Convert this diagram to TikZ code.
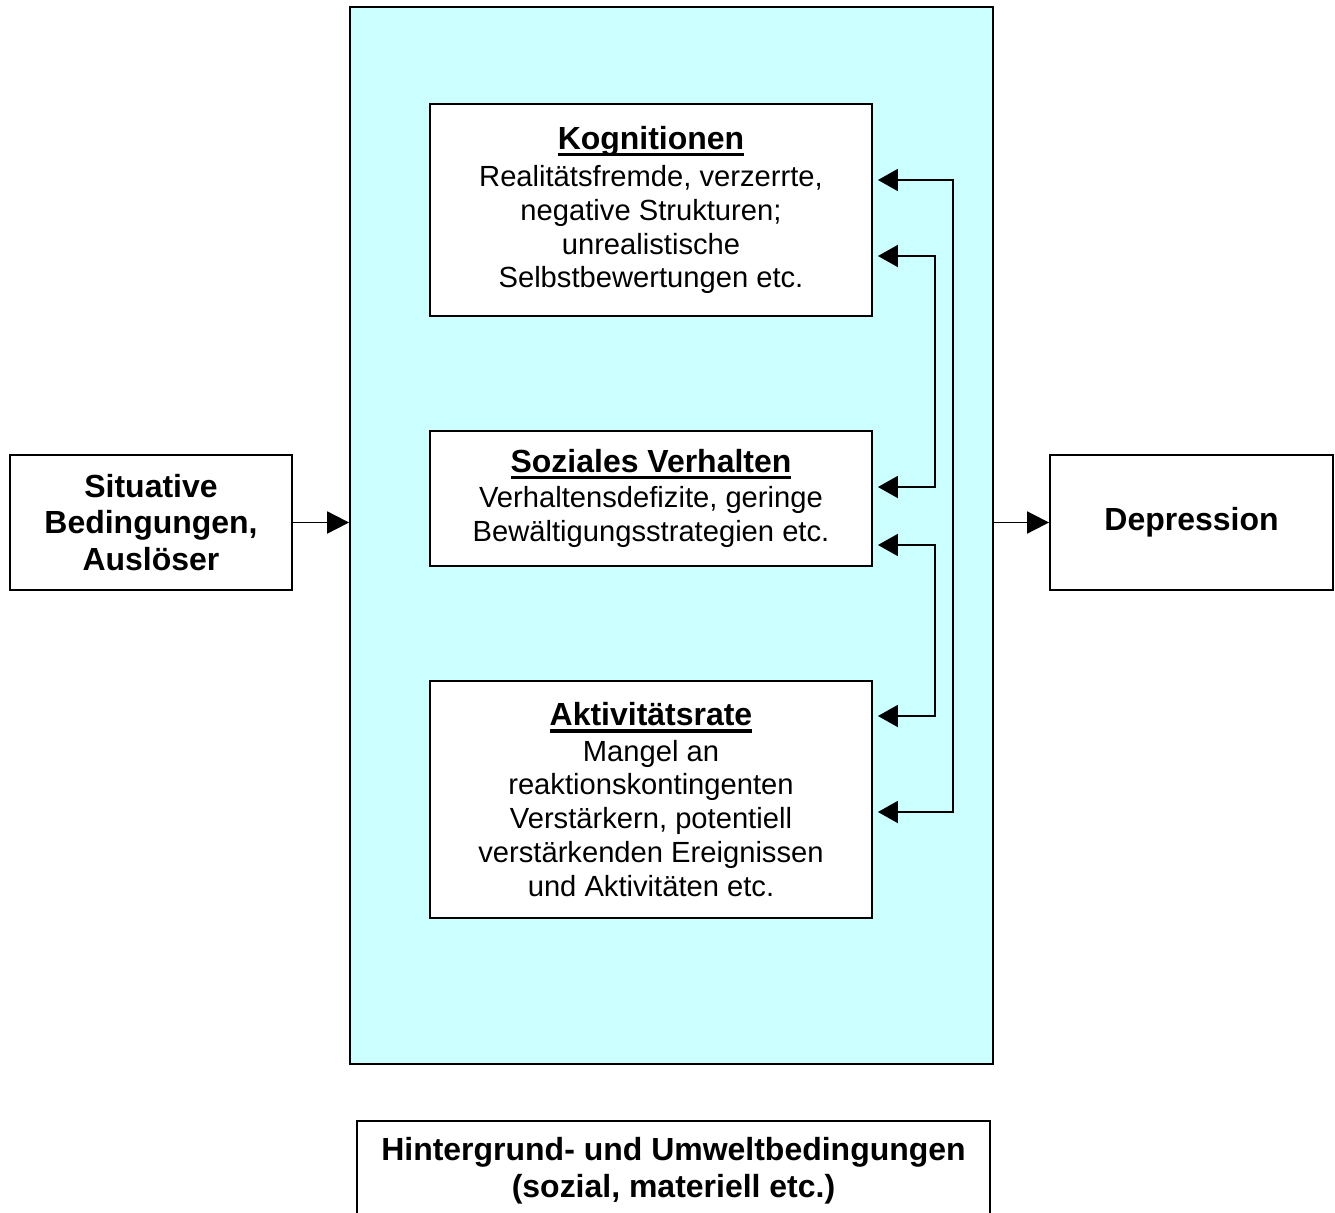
\documentclass[tikz,border=0pt]{standalone}
\usepackage{fontspec}
\setmainfont{Liberation Sans}
\usetikzlibrary{calc, arrows.meta}
\newcommand{\titel}[1]{{\fontsize{18.2}{21}\selectfont\bfseries\setbox0\hbox{#1}\rlap{\rule[-4pt]{\wd0}{2pt}}\box0}}
\begin{document}
\begin{tikzpicture}[
        x=0.02cm, y=-0.02cm,
        every node/.style={font=\fontsize{16.6}{19.2}\selectfont},
        block/.style={draw, fill=white, line width=1.1pt, inner sep=0pt, align=center},
        fett/.style={font=\fontsize{18.2}{21}\selectfont\bfseries},
        pfeil/.style={line width=1.1pt, -{Triangle[length=0.44cm, width=0.44cm]}},
        rueck/.style={line width=1.1pt, {Triangle[length=0.4cm, width=0.44cm]}-{Triangle[length=0.4cm, width=0.44cm]},
            shorten <=0.1cm, shorten >=0.1cm}
    ]
    \useasboundingbox (0,0) rectangle (1335,1213);

    % mittlerer Bereich
    \node[block, fill={rgb,255:red,204;green,255;blue,255}, minimum width=12.86cm, minimum height=21.14cm] (kern) at (671.5,535.5) {};

    \node[block, minimum width=8.84cm, minimum height=4.24cm] (kog) at (651,210)
        {\titel{Kognitionen}\\[2pt] Realitätsfremde, verzerrte,\\ negative Strukturen;\\ unrealistische\\ Selbstbewertungen etc.};
    \node[block, minimum width=8.84cm, minimum height=2.7cm] (soz) at (651,498.5)
        {\titel{Soziales Verhalten}\\[1pt] Verhaltensdefizite, geringe\\ Bewältigungsstrategien etc.};
    \node[block, minimum width=8.84cm, minimum height=4.74cm] (akt) at (651,799.5)
        {\titel{Aktivitätsrate}\\[1pt] Mangel an\\ reaktionskontingenten\\ Verstärkern, potentiell\\ verstärkenden Ereignissen\\ und Aktivitäten etc.};

    % aussen
    \node[block, fett, minimum width=5.64cm, minimum height=2.7cm] (sit) at (151,522.5)
        {Situative\\ Bedingungen,\\ Auslöser};
    \node[block, fett, minimum width=5.66cm, minimum height=2.7cm] (dep) at (1191.5,522.5)
        {Depression};
    \node[block, fett, minimum width=12.66cm, minimum height=2cm] (hint) at (673.5,1171)
        {Hintergrund- und Umweltbedingungen\\ (sozial, materiell etc.)};

    \draw[pfeil] (sit.east) -- (sit.east -| kern.west);
    \draw[pfeil] (dep.west -| kern.east) -- (dep.west);

    % Rueckkopplungen
    \draw[rueck] ($(kog.east)+(0,-30)$) -- ++(80,0) |- ($(akt.east)+(0,12.5)$);
    \draw[rueck] ($(kog.east)+(0,46)$) -- ++(62,0) |- ($(soz.east)+(0,-11.5)$);
    \draw[rueck] ($(soz.east)+(0,46.5)$) -- ++(62,0) |- ($(akt.east)+(0,-83.5)$);
\end{tikzpicture}
\end{document}
